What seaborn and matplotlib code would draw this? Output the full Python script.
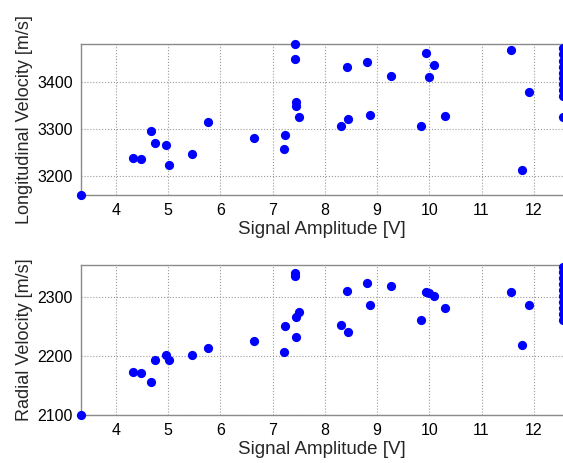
import numpy as np
import pandas as pd
import matplotlib
matplotlib.use("Agg")
import matplotlib.pyplot as plt
import seaborn as sns

# Signal amplitude [V] for each measurement (shared by both panels)
amplitude = [3.33, 4.33, 4.47, 4.66, 4.75, 4.95, 5.02, 5.46, 5.77, 6.65,
             7.21, 7.24, 7.43, 7.43, 7.45, 7.44, 7.51,
             8.42, 8.81, 9.26, 9.94, 10.09, 9.99, 8.30, 8.45, 8.86, 9.84,
             10.30, 11.56, 11.90, 11.77,
             12.56, 12.56, 12.56, 12.56, 12.56, 12.56, 12.56, 12.56, 12.56, 12.56]

# Longitudinal velocity [m/s]
long_vel = [3160, 3239, 3237, 3296, 3270, 3266, 3223, 3246, 3316, 3282,
            3257, 3287, 3480, 3450, 3358, 3350, 3326,
            3431, 3443, 3413, 3461, 3436, 3411, 3307, 3321, 3331, 3306,
            3328, 3469, 3379, 3214,
            3473, 3460, 3445, 3432, 3420, 3408, 3395, 3383, 3370, 3325]

# Radial velocity [m/s]
rad_vel = [2100, 2173, 2171, 2155, 2193, 2201, 2194, 2202, 2214, 2226,
           2206, 2251, 2341, 2336, 2266, 2232, 2275,
           2311, 2324, 2319, 2309, 2302, 2307, 2253, 2240, 2287, 2262,
           2282, 2309, 2287, 2218,
           2352, 2342, 2332, 2322, 2312, 2302, 2292, 2282, 2272, 2262]

x_ticks = [4, 5, 6, 7, 8, 9, 10, 11, 12]

df = pd.DataFrame({'amp': amplitude, 'long': long_vel, 'rad': rad_vel})

sns.set_style("white")
plt.rcParams['font.family'] = ['Liberation Sans', 'DejaVu Sans']

fig = plt.figure(figsize=(5.63, 4.63), dpi=100)
ax1 = fig.add_axes([0.144, 0.579, 0.856, 0.326])
ax2 = fig.add_axes([0.144, 0.104, 0.856, 0.324])

panels = [
    (ax1, 'long', 'Longitudinal Velocity [m/s]', (3160, 3481), [3200, 3300, 3400]),
    (ax2, 'rad', 'Radial Velocity [m/s]', (2100, 2355), [2100, 2200, 2300]),
]

for ax, col, ylabel, ylim, yticks in panels:
    sns.scatterplot(x='amp', y=col, data=df, ax=ax, color='#0000ff',
                    s=44, edgecolor='#0000ff', linewidth=0, clip_on=False, zorder=3)
    ax.set_xlim(3.33, 12.56)
    ax.set_ylim(*ylim)
    ax.set_xticks(x_ticks)
    ax.set_yticks(yticks)
    ax.grid(True, linestyle=':', color='#9a9a9a', linewidth=0.8)
    ax.tick_params(direction='in', length=3, labelsize=11.5, colors='#222222',
                   labelcolor='black', pad=6)
    for side in ['top', 'left', 'bottom']:
        ax.spines[side].set_color('#8a8a8a')
        ax.spines[side].set_linewidth(1.0)
    ax.spines['right'].set_visible(False)
    ax.set_xlabel('Signal Amplitude [V]', fontsize=13.5, labelpad=2)
    ax.set_ylabel(ylabel, fontsize=13, labelpad=3)

fig.savefig('out.png', dpi=100)
